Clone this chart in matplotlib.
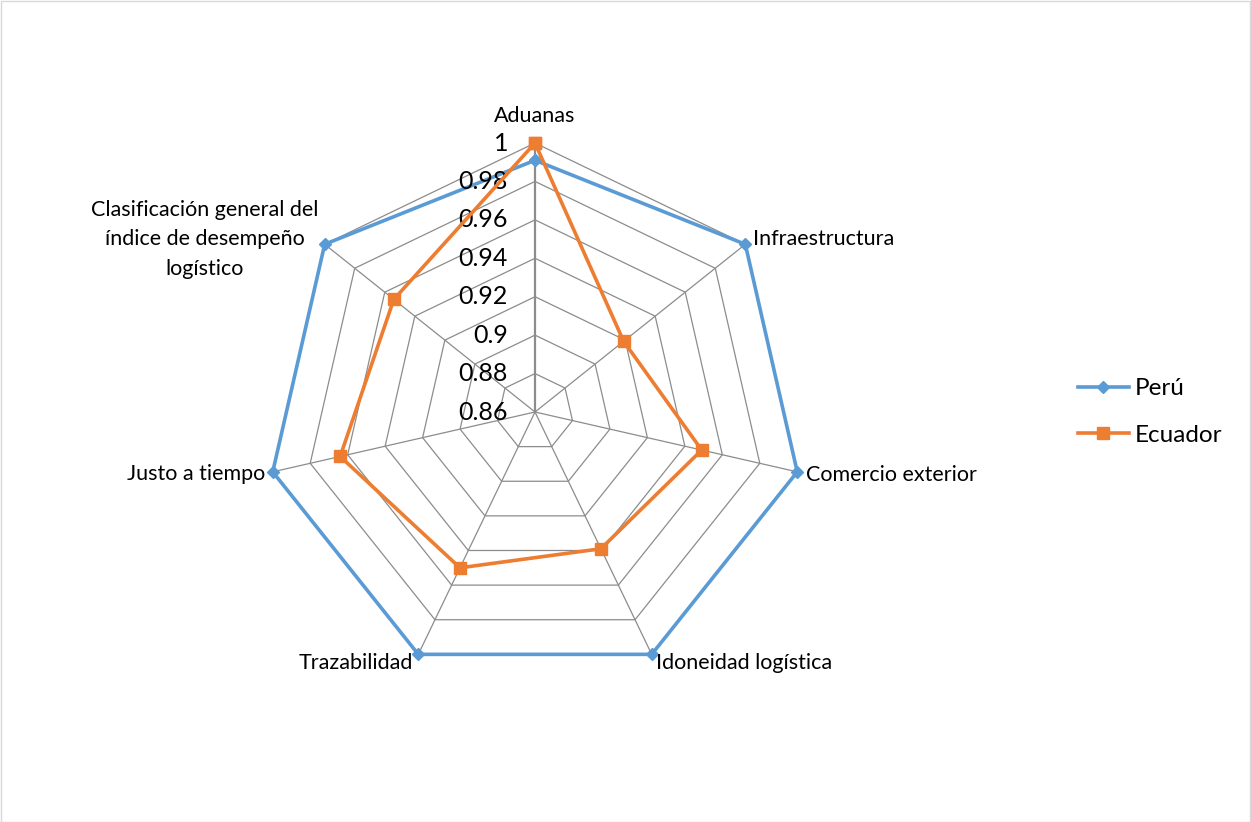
import numpy as np
import matplotlib
matplotlib.use("Agg")
import matplotlib.pyplot as plt
from matplotlib.lines import Line2D
from matplotlib.patches import Rectangle

plt.rcParams['font.family'] = ['Lato', 'DejaVu Sans']

categories = ["Aduanas", "Infraestructura", "Comercio exterior", "Idoneidad logística",
              "Trazabilidad", "Justo a tiempo",
              "Clasificación general del\níndice de desempeño\nlogístico"]
peru = [0.991, 1.0, 1.0, 1.0, 1.0, 1.0, 1.0]
ecuador = [1.0, 0.919, 0.949, 0.939, 0.950, 0.964, 0.954]
r_ticks = [0.86, 0.88, 0.90, 0.92, 0.94, 0.96, 0.98, 1.0]
r_tick_labels = ["0.86", "0.88", "0.9", "0.92", "0.94", "0.96", "0.98", "1"]

W, H = 1251, 822
fig = plt.figure(figsize=(W / 100, H / 100), dpi=100)
fig.patches.append(Rectangle((0.5 / W, 0.5 / H), 1 - 1.5 / W, 1 - 1.5 / H,
                             transform=fig.transFigure, fill=False,
                             edgecolor="#d9d9d9", linewidth=1.0))

cx, cy, R = 535, 412, 269
ax = fig.add_axes([(cx - R) / W, (H - cy - R) / H, 2 * R / W, 2 * R / H],
                  projection="polar")
ax.set_theta_zero_location("N")
ax.set_theta_direction(-1)
ax.set_ylim(r_ticks[0], r_ticks[-1])
ax.grid(False)
ax.set_xticks([])
ax.set_yticks([])
ax.spines["polar"].set_visible(False)
ax.patch.set_alpha(0)

n = len(categories)
theta = np.arange(n) * 2 * np.pi / n
theta_c = np.append(theta, theta[0])

grid_col = "#8c8c8c"
for r in r_ticks[1:]:
    ax.plot(theta_c, [r] * (n + 1), color=grid_col, lw=0.9, zorder=1)
for i, t in enumerate(theta):
    ax.plot([t, t], [r_ticks[0], r_ticks[-1]], color=grid_col,
            lw=1.6 if i == 0 else 0.9, zorder=1)

blue = "#5B9BD5"
orange = "#ED7D31"
ax.plot(theta_c, peru + peru[:1], color=blue, lw=2.6, marker="D",
        markersize=6.5, zorder=3, clip_on=False)
ax.plot(theta_c, ecuador + ecuador[:1], color=orange, lw=2.6, marker="s",
        markersize=8.5, zorder=4, clip_on=False)

# radial tick labels along the first spoke
for r, lab in zip(r_ticks, r_tick_labels):
    ax.annotate(lab, (0, r), xytext=(-27, 0), textcoords="offset pixels",
                ha="right", va="center", fontsize=18, color="#000000")

# category labels
offsets = [((0, 27), "center"),
           ((8, 5), "left"),
           ((9, -3), "left"),
           ((4, -9), "left"),
           ((-5, -9), "right"),
           ((-7, -2), "right"),
           ((-6, 5), "right")]
for t, lab, (off, ha) in zip(theta, categories, offsets):
    ax.annotate(lab, (t, 1.0), xytext=off, textcoords="offset pixels",
                ha=ha, va="center", fontsize=15.5, multialignment="center",
                linespacing=1.6, annotation_clip=False)

handles = [Line2D([], [], color=blue, lw=2.6, marker="D", markersize=6.5),
           Line2D([], [], color=orange, lw=2.6, marker="s", markersize=8.5)]
fig.legend(handles, ["Perú", "Ecuador"], loc="center left",
           bbox_to_anchor=(1056 / W, 1 - 412 / H), frameon=False,
           fontsize=17.5, handlelength=2.1, handletextpad=0.25,
           labelspacing=1.05)

fig.savefig("out.png", dpi=100)
